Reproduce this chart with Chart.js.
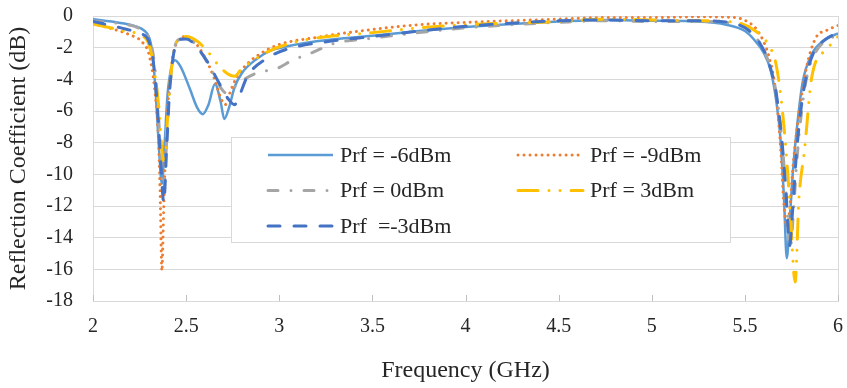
<!DOCTYPE html>
<html>
<head>
<meta charset="utf-8">
<title>Reflection coefficient vs frequency</title>
<script src="https://cdn.jsdelivr.net/npm/chart.js@4.4.1/dist/chart.umd.min.js"></script>
<style>
  body { margin: 0; background: #fff; }
  #wrap { width: 847px; height: 388px; }
</style>
</head>
<body>
<div id="wrap"><canvas id="rc"></canvas></div>
<script>
// measured reflection coefficient (dB) against frequency (GHz), one pair of arrays per input power

// Prf = -6dBm
const freqM6 = [2.00, 2.10, 2.20, 2.26, 2.29, 2.31, 2.325, 2.34, 2.355, 2.37, 2.385, 2.40, 2.42, 2.44, 2.47, 2.52, 2.56, 2.59, 2.62, 2.655, 2.685, 2.705, 2.73, 2.76, 2.80, 2.88, 2.95, 3.05, 3.2, 3.5, 3.75, 4.0, 4.25, 4.5, 4.75, 5.0, 5.25, 5.4, 5.5, 5.55, 5.6, 5.64, 5.67, 5.69, 5.71, 5.725, 5.74, 5.76, 5.78, 5.81, 5.86, 5.93, 6.0];
const rcM6 = [-0.2, -0.35, -0.55, -0.8, -1.1, -1.7, -3.0, -5.5, -8.5, -10.6, -8.0, -5.0, -3.3, -2.8, -3.2, -4.6, -5.8, -6.2, -5.6, -4.3, -5.4, -6.5, -5.8, -4.5, -3.6, -2.7, -2.2, -1.9, -1.6, -1.25, -0.95, -0.7, -0.5, -0.35, -0.25, -0.3, -0.35, -0.55, -0.95, -1.5, -2.3, -3.5, -5.5, -7.6, -11.5, -15.3, -13.0, -9.5, -7.0, -4.2, -2.4, -1.5, -1.1];

// Prf = -9dBm
const freqM9 = [2.00, 2.10, 2.20, 2.26, 2.30, 2.33, 2.35, 2.36, 2.37, 2.38, 2.395, 2.41, 2.43, 2.46, 2.50, 2.55, 2.60, 2.65, 2.69, 2.71, 2.73, 2.77, 2.83, 2.91, 3.0, 3.2, 3.5, 3.75, 4.0, 4.5, 4.75, 5.0, 5.25, 5.45, 5.52, 5.56, 5.60, 5.63, 5.66, 5.69, 5.71, 5.725, 5.74, 5.76, 5.79, 5.83, 5.88, 5.94, 6.0];
const rcM9 = [-0.5, -0.8, -1.2, -1.6, -2.4, -4.5, -7.5, -11.0, -16.1, -12.0, -7.0, -4.5, -2.5, -1.5, -1.3, -1.7, -2.6, -3.9, -5.3, -5.6, -5.0, -3.9, -3.0, -2.3, -1.8, -1.35, -0.85, -0.55, -0.4, -0.2, -0.1, -0.1, -0.05, -0.1, -0.4, -0.8, -1.6, -2.6, -4.3, -8.0, -12.0, -13.3, -12.3, -9.3, -6.2, -3.3, -1.4, -0.9, -0.6];

// Prf = 0dBm
const freqP0 = [2.00, 2.15, 2.25, 2.30, 2.33, 2.35, 2.365, 2.38, 2.395, 2.41, 2.43, 2.47, 2.52, 2.58, 2.64, 2.69, 2.72, 2.75, 2.80, 2.88, 2.99, 3.07, 3.18, 3.29, 3.5, 3.75, 4.0, 4.25, 4.5, 4.75, 5.0, 5.25, 5.45, 5.52, 5.58, 5.63, 5.67, 5.70, 5.72, 5.745, 5.76, 5.78, 5.80, 5.83, 5.87, 5.93, 6.0];
const rcP0 = [-0.3, -0.5, -0.8, -1.4, -3.0, -6.0, -9.0, -11.0, -8.0, -5.0, -2.5, -1.45, -1.5, -2.3, -3.5, -4.6, -4.9, -4.6, -4.1, -3.6, -3.3, -2.8, -2.3, -1.75, -1.4, -1.05, -0.75, -0.55, -0.4, -0.3, -0.35, -0.35, -0.5, -0.9, -1.7, -3.0, -5.0, -8.0, -11.0, -14.6, -12.5, -9.0, -6.5, -4.0, -2.5, -1.6, -1.2];

// Prf = 3dBm
const freqP3 = [2.00, 2.15, 2.25, 2.30, 2.33, 2.355, 2.37, 2.385, 2.40, 2.42, 2.45, 2.50, 2.56, 2.62, 2.68, 2.73, 2.76, 2.80, 2.85, 2.93, 3.1, 3.3, 3.5, 3.75, 4.0, 4.5, 4.75, 5.0, 5.25, 5.45, 5.55, 5.62, 5.67, 5.71, 5.74, 5.77, 5.79, 5.82, 5.86, 5.94, 6.0];
const rcP3 = [-0.5, -0.9, -1.2, -1.8, -3.5, -6.0, -8.5, -9.4, -6.5, -3.5, -1.6, -1.3, -1.6, -2.3, -3.2, -3.7, -3.8, -3.3, -2.9, -2.3, -1.6, -1.25, -1.05, -0.75, -0.55, -0.35, -0.2, -0.25, -0.3, -0.4, -0.9, -1.7, -3.2, -7.0, -11.6, -16.8, -11.6, -8.5, -3.8, -2.1, -1.3];

// Prf = -3dBm
const freqM3 = [2.00, 2.15, 2.25, 2.30, 2.33, 2.35, 2.365, 2.38, 2.395, 2.41, 2.43, 2.46, 2.50, 2.56, 2.62, 2.68, 2.73, 2.76, 2.78, 2.83, 2.93, 3.04, 3.27, 3.5, 3.75, 4.0, 4.5, 4.75, 5.0, 5.25, 5.45, 5.52, 5.58, 5.63, 5.67, 5.70, 5.72, 5.74, 5.755, 5.775, 5.80, 5.83, 5.87, 5.93, 6.0];
const rcM3 = [-0.35, -0.75, -1.1, -1.6, -3.5, -6.5, -9.5, -11.8, -8.5, -5.0, -2.6, -1.5, -1.45, -2.0, -3.0, -4.3, -5.3, -5.6, -5.2, -3.8, -2.7, -2.1, -1.6, -1.3, -0.95, -0.65, -0.3, -0.25, -0.3, -0.3, -0.5, -0.9, -1.7, -3.0, -5.0, -8.0, -11.0, -14.5, -12.5, -9.0, -6.0, -3.8, -2.3, -1.5, -1.05];

const xTicks = [2, 2.5, 3, 3.5, 4, 4.5, 5, 5.5, 6];
const yTicks = [0, -2, -4, -6, -8, -10, -12, -14, -16, -18];

const FONT = "'Liberation Serif', 'Times New Roman', serif";
const TEXT = "#262626";
const GRID = "#D9D9D9";

const pts = (fs, vs) => fs.map((f, i) => ({ x: f, y: vs[i] }));

const series = [
  { label: "Prf = -6dBm", data: pts(freqM6, rcM6), borderColor: "#5B9BD5", borderWidth: 2.5, borderDash: [], borderCapStyle: "butt", order: 4 },
  { label: "Prf = -9dBm", data: pts(freqM9, rcM9), borderColor: "#ED7D31", borderWidth: 3, borderDash: [0.01, 6], borderCapStyle: "round", order: 3 },
  { label: "Prf = 0dBm", data: pts(freqP0, rcP0), borderColor: "#A5A5A5", borderWidth: 3, borderDash: [10, 13, 0.01, 13], borderCapStyle: "round", order: 2 },
  { label: "Prf = 3dBm", data: pts(freqP3, rcP3), borderColor: "#FFC000", borderWidth: 3, borderDash: [20, 11, 0.01, 11, 0.01, 11], borderCapStyle: "round", order: 1 },
  { label: "Prf  =-3dBm", data: pts(freqM3, rcM3), borderColor: "#4472C4", borderWidth: 3, borderDash: [12, 14], borderCapStyle: "round", order: 0 }
];

// small tick marks pointing up into the plot from the frequency axis
const innerTicks = {
  id: "innerTicks",
  beforeDatasetsDraw(chart) {
    const { ctx, scales: { x }, chartArea } = chart;
    ctx.save();
    ctx.strokeStyle = "#BFBFBF";
    ctx.lineWidth = 1;
    xTicks.forEach(v => {
      const px = Math.round(x.getPixelForValue(v)) + 0.5;
      ctx.beginPath();
      ctx.moveTo(px, chartArea.bottom);
      ctx.lineTo(px, chartArea.bottom - 6);
      ctx.stroke();
    });
    ctx.restore();
  }
};

// boxed two-column legend sitting inside the plot
const boxLegend = {
  id: "boxLegend",
  afterDraw(chart) {
    const { ctx } = chart;
    const box = { x: 231.5, y: 137.5, w: 499, h: 105 };
    ctx.save();
    ctx.fillStyle = "#fff";
    ctx.strokeStyle = GRID;
    ctx.lineWidth = 1;
    ctx.fillRect(box.x, box.y, box.w, box.h);
    ctx.strokeRect(box.x, box.y, box.w, box.h);

    const colX = [268, 518];
    const rowY = [155, 190.5, 226];
    ctx.font = "22px " + FONT;
    ctx.textBaseline = "middle";
    ctx.fillStyle = TEXT;
    chart.data.datasets.forEach((ds, i) => {
      const lx = colX[i % 2];
      const ly = rowY[Math.floor(i / 2)];
      ctx.save();
      ctx.strokeStyle = ds.borderColor;
      ctx.lineWidth = ds.borderWidth;
      ctx.lineCap = ds.borderCapStyle;
      ctx.setLineDash(ds.borderDash);
      ctx.beginPath();
      ctx.moveTo(lx, ly);
      ctx.lineTo(lx + 65, ly);
      ctx.stroke();
      ctx.restore();
      ctx.fillText(ds.label, lx + 72, ly + 1);
    });
    ctx.restore();
  }
};

new Chart(document.getElementById("rc"), {
  type: "line",
  data: { datasets: series },
  options: {
    responsive: true,
    maintainAspectRatio: false,
    animation: false,
    layout: { padding: { top: 16, right: 9, left: 0, bottom: 0 } },
    elements: {
      point: { radius: 0 },
      line: { tension: 0.4, cubicInterpolationMode: "monotone", fill: false }
    },
    plugins: { legend: { display: false }, tooltip: { enabled: false } },
    scales: {
      x: {
        type: "linear",
        min: 2, max: 6,
        afterBuildTicks: s => { s.ticks = xTicks.map(v => ({ value: v })); },
        afterFit: s => { s.height = 87; s.paddingLeft = 0; s.paddingRight = 0; },
        grid: {
          drawTicks: false,
          color: c => (c.tick && (c.tick.value === 2 || c.tick.value === 6)) ? GRID : "transparent"
        },
        border: { color: GRID },
        ticks: { padding: 14, color: TEXT, font: { family: FONT, size: 20 }, callback: v => String(v) },
        title: { display: true, text: "Frequency (GHz)", color: TEXT, padding: { top: 0, bottom: 3 }, font: { family: FONT, size: 24 } }
      },
      y: {
        min: -18, max: 0,
        afterBuildTicks: s => { s.ticks = yTicks.map(v => ({ value: v })); },
        afterFit: s => { s.width = 93; s.paddingTop = 0; s.paddingBottom = 0; },
        grid: { drawTicks: false, color: GRID },
        border: { color: GRID },
        ticks: { padding: 20, color: TEXT, font: { family: FONT, size: 20 }, callback: v => String(v) },
        title: { display: true, text: "Reflection Coefficient (dB)", color: TEXT, padding: { top: 4, bottom: 0 }, font: { family: FONT, size: 24 } }
      }
    }
  },
  plugins: [innerTicks, boxLegend]
});
</script>
</body>
</html>
